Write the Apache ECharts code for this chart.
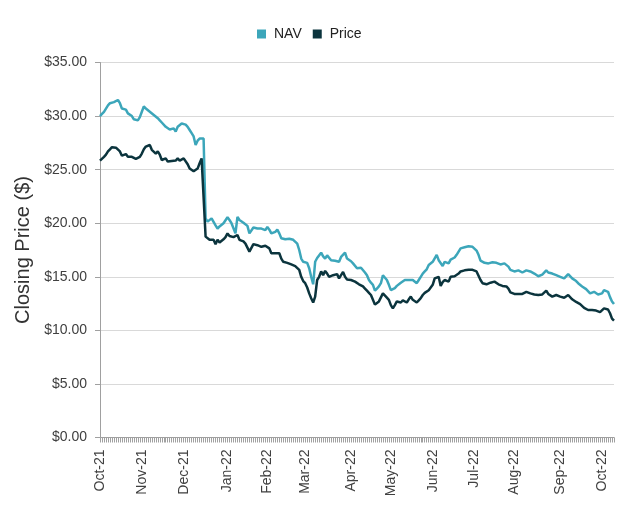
<!DOCTYPE html>
<html>
<head>
<meta charset="utf-8">
<script src="https://cdn.jsdelivr.net/npm/echarts@6/dist/echarts.min.js"></script>
<style>
html,body{margin:0;padding:0;background:#fff;}
#chart{width:636px;height:512px;}
</style>
</head>
<body>
<div id="chart"></div>
<script>
// Trading-day categories: first trading day and exchange holidays in range
const startDate = '2021-10-01';
const holidays = ['2021-11-25','2021-12-24','2022-01-17','2022-02-21','2022-04-15','2022-05-30','2022-06-20','2022-07-04','2022-09-05'];
const monthNames = ['Jan','Feb','Mar','Apr','May','Jun','Jul','Aug','Sep','Oct','Nov','Dec'];

const navValues = [
30.0,30.2,30.4,30.7,31.0,31.2,31.35,31.3,31.4,31.5,
31.2,30.7,30.8,30.6,30.25,30.1,30.0,29.7,29.8,29.6,
29.9,30.4,30.9,30.7,30.6,30.4,30.3,30.1,30.1,29.8,
29.6,29.4,29.3,29.0,28.85,28.75,28.9,28.85,28.55,29.0,
29.1,29.3,29.25,29.2,29.0,28.7,28.4,28.1,27.3,27.7,
27.9,27.85,27.9,20.45,20.15,20.3,20.45,20.3,19.8,19.5,
19.7,19.8,20.0,20.15,20.55,20.3,20.0,20.05,19.05,20.6,
20.3,20.2,20.05,19.9,19.75,19.05,19.2,19.6,19.55,19.5,
19.4,19.5,19.45,19.35,19.65,19.4,19.05,19.1,19.2,19.4,
19.05,18.6,18.55,18.5,18.5,18.55,18.5,18.45,18.4,18.1,
17.5,16.7,16.4,16.35,16.3,15.8,15.0,14.3,16.4,16.75,
16.8,17.25,16.9,16.7,17.0,17.15,16.55,16.4,16.5,16.55,
16.4,16.85,17.0,17.25,16.7,16.6,16.45,16.25,16.1,15.8,
15.9,15.85,15.7,15.4,15.15,14.7,14.45,14.25,13.7,13.9,
14.1,14.4,15.15,15.3,14.7,14.25,13.75,13.9,13.95,14.15,
14.25,14.45,14.5,14.7,14.55,14.7,14.85,14.7,14.85,14.4,
14.7,15.0,15.3,15.5,15.7,16.1,16.25,16.4,16.55,17.05,
16.55,16.4,16.0,16.4,16.3,16.25,16.6,16.55,16.8,17.05,
17.2,17.65,17.8,17.75,17.8,17.85,17.75,17.8,17.7,17.45,
17.05,16.5,16.35,16.3,16.25,16.25,16.4,16.35,16.25,16.3,
16.3,16.15,16.2,16.25,16.1,15.95,15.65,15.5,15.5,15.55,
15.6,15.5,15.4,15.5,15.6,15.65,15.5,15.4,15.3,15.2,
15.05,15.15,15.2,15.3,15.6,15.4,15.35,15.3,15.2,15.15,
15.05,15.0,14.9,14.85,15.0,15.25,15.4,14.85,14.75,14.6,
14.4,14.25,14.1,14.0,13.85,13.7,13.45,13.55,13.6,13.6,
13.35,13.3,13.45,13.75,13.85,13.6,13.1,12.7,12.45
];

const priceValues = [
25.85,26.0,26.2,26.4,26.7,26.9,27.1,27.1,27.05,26.9,
26.7,26.3,26.4,26.45,26.2,26.05,26.2,26.05,26.0,26.0,
26.2,26.5,26.9,27.15,27.2,27.3,26.85,26.9,26.5,26.7,
26.4,25.9,26.0,26.05,25.75,25.9,25.8,25.65,25.85,26.05,
25.85,26.0,26.05,25.9,25.5,25.1,24.95,24.85,24.8,25.1,
25.6,26.05,26.2,18.75,18.6,18.45,18.3,18.45,18.05,18.45,
18.2,18.1,18.5,18.7,19.05,18.8,18.7,18.7,18.75,18.9,
18.45,18.4,18.3,18.1,17.95,17.35,17.45,18.05,18.0,17.95,
17.85,17.8,17.8,17.9,17.95,17.65,17.2,17.35,17.2,17.05,
17.2,16.7,16.4,16.4,16.3,16.25,16.15,16.1,16.0,16.0,
15.65,15.0,14.6,14.4,14.0,13.45,13.0,12.6,13.15,14.7,
15.0,15.5,15.15,15.55,15.3,15.0,15.05,15.15,15.2,15.25,
14.85,15.15,15.45,15.0,14.75,14.75,14.7,14.7,14.55,14.45,
14.3,14.25,14.1,13.9,13.7,13.5,13.3,12.85,12.4,12.55,
12.7,12.85,13.45,13.3,13.05,12.85,12.35,12.05,12.35,12.7,
12.65,12.6,12.8,12.85,12.6,12.9,13.15,12.85,12.8,12.6,
12.8,13.0,13.3,13.5,13.6,13.75,13.9,14.25,14.85,14.7,
15.0,14.15,14.5,14.7,14.85,14.55,15.0,15.15,15.05,15.0,
15.3,15.5,15.65,15.6,15.6,15.65,15.55,15.65,15.6,15.5,
15.1,14.7,14.4,14.35,14.3,14.25,14.45,14.5,14.55,14.4,
14.3,14.2,14.15,14.25,14.1,13.9,13.55,13.45,13.4,13.4,
13.4,13.4,13.4,13.45,13.6,13.5,13.45,13.4,13.35,13.3,
13.3,13.3,13.35,13.3,13.7,13.4,13.3,13.15,13.2,13.3,
13.2,13.15,13.0,13.05,13.15,13.3,13.45,12.9,12.75,12.65,
12.55,12.45,12.35,12.1,11.95,11.9,11.9,11.9,11.85,11.85,
11.75,11.7,11.65,12.05,12.2,11.95,11.6,11.1,10.9
];

const yTicks = [0, 5, 10, 15, 20, 25, 30, 35];

function pad(n){return (n<10?'0':'')+n;}
function buildTradingDays(start, count){
  const out = [];
  const d = new Date(start + 'T00:00:00Z');
  while (out.length < count) {
    const dow = d.getUTCDay();
    const s = d.getUTCFullYear() + '-' + pad(d.getUTCMonth()+1) + '-' + pad(d.getUTCDate());
    if (dow !== 0 && dow !== 6 && holidays.indexOf(s) < 0) out.push(s);
    d.setUTCDate(d.getUTCDate() + 1);
  }
  return out;
}
const dates = buildTradingDays(startDate, navValues.length);

function isMonthStart(i){
  if (i === 0) return true;
  return dates[i].slice(0,7) !== dates[i-1].slice(0,7);
}
function monthLabel(s){
  const m = parseInt(s.slice(5,7),10);
  return monthNames[m-1] + '-' + s.slice(2,4);
}

const chart = echarts.init(document.getElementById('chart'), null, {renderer:'canvas'});
const FONT = 'Liberation Sans, Arial, sans-serif';
chart.setOption({
  animation: false,
  backgroundColor: '#ffffff',
  textStyle: {fontFamily: FONT},
  color: ['#3ca6ba', '#0b343d'],
  legend: {
    top: 22,
    left: 252,
    icon: 'rect',
    itemWidth: 9,
    itemHeight: 9,
    itemGap: 11,
    textStyle: {fontSize: 14, color: '#222', fontFamily: FONT, padding: [0,0,0,3]},
    data: ['NAV', 'Price']
  },
  grid: {left: 100, right: 22, top: 62.5, bottom: 74.5, containLabel: false},
  xAxis: {
    type: 'category',
    boundaryGap: false,
    data: dates,
    axisLine: {lineStyle: {color: '#a0a0a0', width: 1}},
    axisTick: {show: true, interval: 0, length: 5, lineStyle: {color: '#a0a0a0'}},
    axisLabel: {
      interval: function(i){ return isMonthStart(i); },
      rotate: 90,
      margin: 12,
      fontSize: 14,
      color: '#404040',
      fontFamily: FONT,
      formatter: function(v){ return monthLabel(v); }
    },
    splitLine: {show: false}
  },
  yAxis: {
    type: 'value',
    min: yTicks[0],
    max: yTicks[yTicks.length-1],
    interval: 5,
    name: 'Closing Price ($)',
    nameLocation: 'middle',
    nameGap: 60,
    nameTextStyle: {fontSize: 20, color: '#333', fontFamily: FONT},
    axisLine: {show: true, lineStyle: {color: '#a0a0a0', width: 1}},
    axisTick: {show: true, length: 5, lineStyle: {color: '#a0a0a0'}},
    axisLabel: {
      margin: 13,
      fontSize: 14,
      color: '#404040',
      fontFamily: FONT,
      formatter: function(v){ return '$' + v.toFixed(2); }
    },
    splitLine: {show: true, lineStyle: {color: '#d9d9d9', width: 1}}
  },
  series: [
    {name: 'NAV', type: 'line', data: navValues, showSymbol: false, symbol: 'none',
     lineStyle: {width: 2.5, color: '#3ca6ba'}, itemStyle: {color: '#3ca6ba'}},
    {name: 'Price', type: 'line', data: priceValues, showSymbol: false, symbol: 'none',
     lineStyle: {width: 2.5, color: '#0b343d'}, itemStyle: {color: '#0b343d'}}
  ]
});
</script>
</body>
</html>
